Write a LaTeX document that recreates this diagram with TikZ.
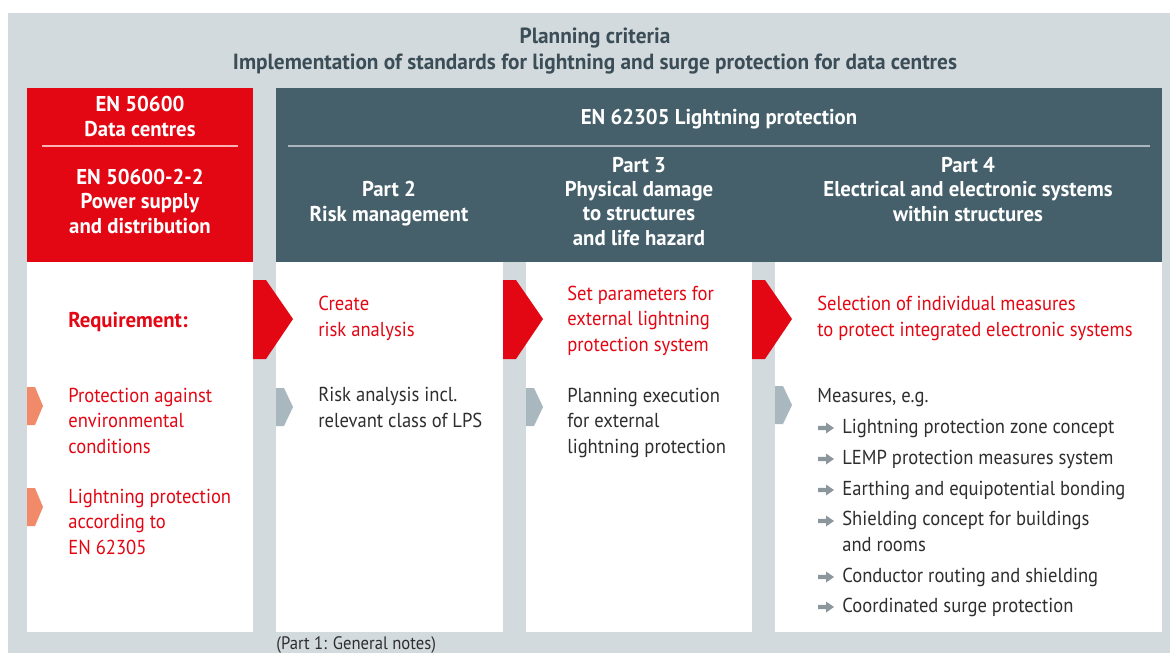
\documentclass[tikz,border=0pt]{standalone}
\usepackage{fontspec}
\setmainfont{PT Sans}[FakeStretch=0.92]
\newfontfamily\headfont{PT Sans}[FakeStretch=0.97]
\usepackage{xcolor}
\usetikzlibrary{arrows.meta,positioning,shapes}

\definecolor{bggray}{HTML}{D3DADE}
\definecolor{dinred}{HTML}{E30613}
\definecolor{slate}{HTML}{45606B}
\definecolor{titleblue}{HTML}{3B4D56}
\definecolor{txtgray}{HTML}{2E2E2E}
\definecolor{chevorange}{HTML}{F08A68}
\definecolor{chevgray}{HTML}{A9B7BF}
\definecolor{arrowgray}{HTML}{8C979D}

\tikzset{
  headtext/.style={font=\headfont\bfseries\fontsize{12.2}{13.8}\selectfont, text=white, align=center, inner sep=0pt, anchor=base},
  redtext/.style={font=\fontsize{11.5}{14.3}\selectfont, text=dinred, align=left, inner sep=0pt, anchor=base west},
  bodytext/.style={font=\fontsize{11.5}{14.3}\selectfont, text=txtgray, align=left, inner sep=0pt, anchor=base west},
}

\begin{document}
\begin{tikzpicture}[x=0.02cm,y=-0.02cm]
\useasboundingbox (0,0) rectangle (1170,653);
% background
\fill[bggray] (8,13) rectangle (1170,653);
\node[font=\headfont\bfseries\fontsize{12.5}{14.6}\selectfont, text=titleblue, align=center, inner sep=0pt, anchor=base] (title) at (595,69)
  {Planning criteria\\Implementation of standards for lightning and surge protection for data centres};

% column boxes
\fill[dinred] (27,88) rectangle (253,262);
\fill[slate] (276,88) rectangle (1162,262);
\fill[white] (27,262) rectangle (253,632);
\fill[white] (276,262) rectangle (503,632);
\fill[white] (526,262) rectangle (752,632);
\fill[white] (775,262) rectangle (1162,632);
\draw[red!30!white, line width=0.6pt] (42,146) -- (238,146);
\draw[slate!45!white, line width=0.6pt] (288,146) -- (1150,146);

% headers
\node[headtext] (en50600) at (140,136) {EN 50600\\Data centres};
\node[headtext] (en5060022) at (140,233) {EN 50600-2-2\\Power supply\\and distribution};
\node[headtext] (en62305) at (719,124) {EN 62305 Lightning protection};
\node[headtext] (part2) at (389,221) {Part 2\\Risk management};
\node[headtext] (part3) at (639,245) {Part 3\\Physical damage\\to structures\\and life hazard};
\node[headtext] (part4) at (968,221) {Part 4\\Electrical and electronic systems\\within structures};

% big arrows
\fill[dinred] (253,280) -- (266,280) -- (293,319) -- (266,359) -- (253,359) -- cycle;
\fill[dinred] (503,280) -- (516,280) -- (543,319) -- (516,359) -- (503,359) -- cycle;
\fill[dinred] (752,280) -- (765,280) -- (792,319) -- (765,359) -- (752,359) -- cycle;

% chevrons
\fill[chevorange] (27,387) -- (35,387) -- (43,406) -- (35,425) -- (27,425) -- cycle;
\fill[chevorange] (27,488) -- (35,488) -- (43,507) -- (35,526) -- (27,526) -- cycle;
\fill[chevgray] (276,388) -- (284,388) -- (293,407) -- (284,426) -- (276,426) -- cycle;
\fill[chevgray] (526,388) -- (534,388) -- (543,407) -- (534,426) -- (526,426) -- cycle;
\fill[chevgray] (775,386) -- (783,386) -- (792,405) -- (783,424) -- (775,424) -- cycle;

% column 1
\node[redtext, font=\headfont\bfseries\fontsize{12.2}{14.3}\selectfont] (req) at (68,327) {Requirement:};
\node[redtext] (req1) at (68,453) {Protection against\\environmental\\conditions};
\node[redtext] (req2) at (68,554) {Lightning protection\\according to\\EN 62305};

% column 2
\node[redtext] (task2) at (318,336) {Create\\risk analysis};
\node[bodytext] (exec2) at (318,427) {Risk analysis incl.\\relevant class of LPS};

% column 3
\node[redtext] (task3) at (567,351) {Set parameters for\\external lightning\\protection system};
\node[bodytext] (exec3) at (567,453) {Planning execution\\for external\\lightning protection};

% column 4
\node[redtext] (task4) at (817,336) {Selection of individual measures\\to protect integrated electronic systems};
\node[bodytext] (exec4) at (817,402) {Measures, e.g.};
\foreach \ay/\ny/\txt [count=\i] in {433/433/Lightning protection zone concept,
    464/464/LEMP protection measures system,
    495/495/Earthing and equipotential bonding,
    526/551/{Shielding concept for buildings\\and rooms},
    582/582/Conductor routing and shielding,
    612/612/Coordinated surge protection}{
  \node[bodytext] (item\i) at (842,\ny) {\txt};
  \fill[arrowgray, shift={(818,{\ay-5})}] (0,-2.2) -- (8,-2.2) -- (8,-5.5) -- (16,0) -- (8,5.5) -- (8,2.2) -- (0,2.2) -- cycle;
}

\node[font=\fontsize{10.3}{12}\selectfont, text=txtgray, inner sep=0pt, anchor=base west] (note) at (276,649) {(Part 1: General notes)};
\end{tikzpicture}
\end{document}
